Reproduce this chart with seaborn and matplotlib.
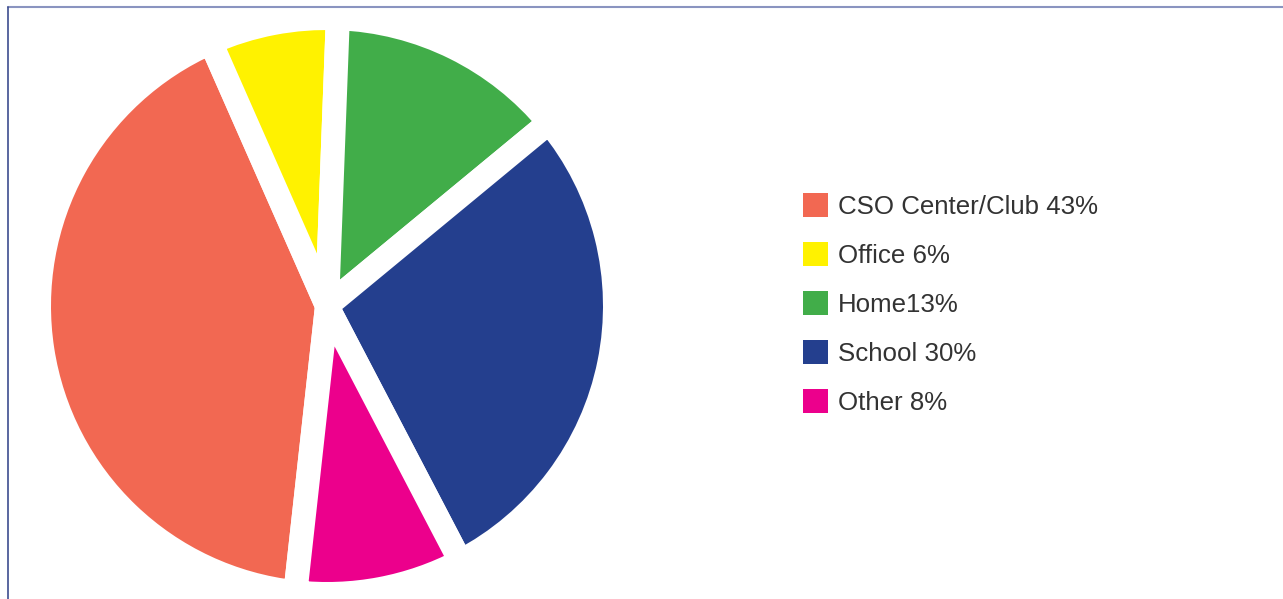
import matplotlib
matplotlib.use("Agg")
import matplotlib.pyplot as plt
import seaborn as sns
from matplotlib.patches import Patch
from matplotlib.lines import Line2D

# ---- data ----
categories = ["CSO Center/Club", "Office", "Home", "School", "Other"]
legend_labels = ["CSO Center/Club 43%", "Office 6%", "Home13%", "School 30%", "Other 8%"]
# wedge shares as drawn in the picture (angles)
shares = [41.6, 7.2, 13.4, 28.3, 9.4]
colors = ["#F26852", "#FFF200", "#41AD49", "#243F8E", "#EC008C"]

sns.set_theme(style="white")
plt.rcParams["font.family"] = ["Liberation Sans", "DejaVu Sans"]

W, H, DPI = 1283, 599, 100
fig = plt.figure(figsize=(W / DPI, H / DPI), dpi=DPI)
fig.patch.set_facecolor("white")

palette = sns.color_palette(colors)

# pie axes: centre (327, 306) px from top-left, full radius 288 px
cx, cy, R = 327, 306, 288
ax = fig.add_axes([(cx - R) / W, (H - cy - R) / H, 2 * R / W, 2 * R / H])
lw_px = 24
wedges, _ = ax.pie(
    shares,
    colors=palette,
    startangle=263.7,
    counterclock=False,
    radius=1.0,
    wedgeprops=dict(edgecolor="white", linewidth=lw_px * 72 / DPI, joinstyle="round"),
)
ax.set_xlim(-1, 1)
ax.set_ylim(-1, 1)
ax.set_aspect("equal")
ax.axis("off")

# legend
handles = [Patch(facecolor=c, edgecolor="none") for c in palette]
fs = 18.6
leg = fig.legend(
    handles,
    legend_labels,
    loc="upper left",
    bbox_to_anchor=(803 / W, 1 - 193 / H),
    frameon=False,
    fontsize=fs,
    handlelength=0.97,
    handleheight=1.05,
    handletextpad=0.38,
    labelspacing=0.9,
    borderpad=0,
    borderaxespad=0,
)
for t in leg.get_texts():
    t.set_color("#333333")

# frame lines (top and left)
fig.add_artist(Line2D([8 / W, 1], [1 - 7 / H, 1 - 7 / H], transform=fig.transFigure,
                      color="#8A94C0", linewidth=1.5))
fig.add_artist(Line2D([8 / W, 8 / W], [0, 1 - 7 / H], transform=fig.transFigure,
                      color="#3D4D8F", linewidth=1.2))

fig.savefig("out.png", dpi=DPI, facecolor="white")
